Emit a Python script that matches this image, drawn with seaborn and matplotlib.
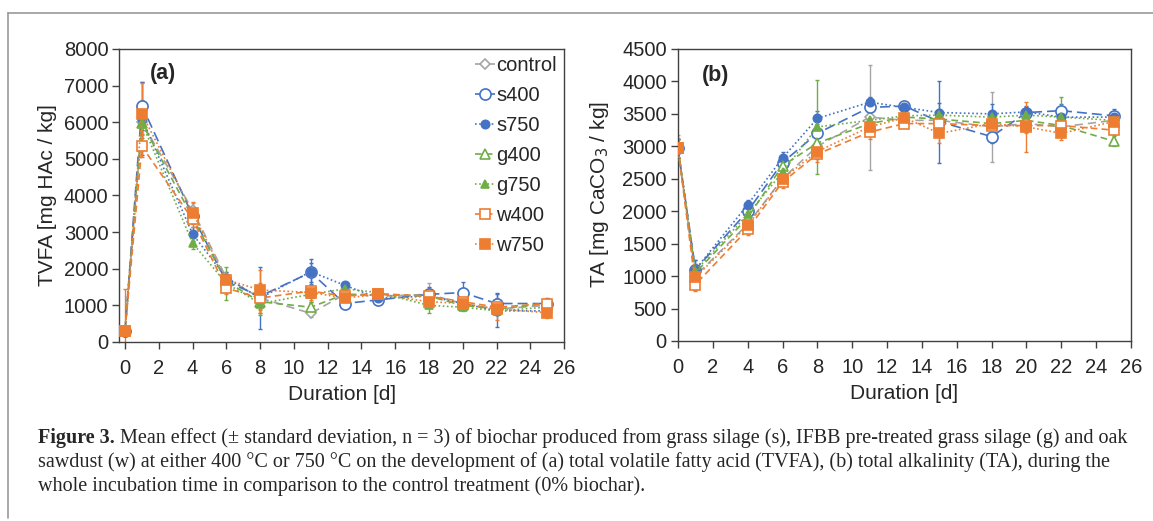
import matplotlib
matplotlib.use("Agg")
import matplotlib.pyplot as plt
from matplotlib.lines import Line2D
from matplotlib.text import Annotation
import seaborn as sns
import numpy as np

sns.set_style("ticks")
plt.rcParams['font.family'] = ['Liberation Sans', 'DejaVu Sans']

days = [0, 1, 4, 6, 8, 11, 13, 15, 18, 20, 22, 25]
series_names = ['control', 's400', 's750', 'g400', 'g750', 'w400', 'w750']

# (a) TVFA [mg HAc / kg]
tvfa_control = [300, 6000, 3600, 1750, 1200, 780, 1300, 1250, 1300, 1050, 900, 1000]
tvfa_s400 = [300, 6450, 3450, 1650, 1250, 1900, 1050, 1150, 1300, 1350, 1050, 1050]
tvfa_s750 = [300, 6100, 2950, 1750, 1200, 1920, 1550, 1200, 1250, 1050, 850, 850]
tvfa_g400 = [300, 5980, 3400, 1650, 1100, 950, 1300, 1300, 1250, 1000, 900, 1050]
tvfa_g750 = [300, 5980, 2700, 1600, 1050, 1300, 1450, 1350, 1000, 950, 850, 950]
tvfa_w400 = [300, 5340, 3350, 1470, 1200, 1390, 1250, 1320, 1250, 1100, 950, 1050]
tvfa_w750 = [300, 6230, 3530, 1700, 1420, 1350, 1200, 1300, 1100, 1050, 900, 800]

tvfa_sd_control = [100, 600, 200, 150, 300, 100, 100, 80, 300, 150, 150, 200]
tvfa_sd_s400 = [80, 650, 200, 150, 300, 250, 100, 80, 200, 300, 280, 100]
tvfa_sd_s750 = [100, 1000, 200, 150, 850, 350, 100, 80, 150, 150, 450, 100]
tvfa_sd_g400 = [80, 300, 150, 200, 300, 150, 100, 80, 150, 100, 100, 100]
tvfa_sd_g750 = [80, 400, 150, 450, 300, 200, 100, 100, 200, 100, 100, 100]
tvfa_sd_w400 = [80, 300, 200, 150, 400, 150, 100, 100, 150, 150, 150, 150]
tvfa_sd_w750 = [1150, 850, 300, 150, 550, 200, 150, 100, 150, 150, 300, 150]

# (b) TA [mg CaCO3 / kg]
ta_control = [2970, 1000, 1800, 2500, 3000, 3450, 3400, 3400, 3300, 3350, 3300, 3400]
ta_s400 = [2970, 1100, 2000, 2750, 3200, 3600, 3620, 3380, 3150, 3520, 3550, 3470]
ta_s750 = [2970, 1100, 2100, 2820, 3430, 3680, 3600, 3520, 3500, 3530, 3450, 3450]
ta_g400 = [2970, 1050, 1900, 2700, 3050, 3350, 3450, 3420, 3350, 3400, 3320, 3080]
ta_g750 = [2970, 1080, 1950, 2600, 3300, 3400, 3470, 3480, 3450, 3480, 3450, 3400]
ta_w400 = [2970, 870, 1720, 2450, 2880, 3220, 3350, 3350, 3320, 3320, 3320, 3250]
ta_w750 = [2970, 980, 1780, 2500, 2920, 3300, 3440, 3200, 3350, 3300, 3200, 3380]

ta_sd_control = [200, 150, 80, 100, 150, 810, 80, 100, 540, 150, 100, 100]
ta_sd_s400 = [150, 150, 100, 100, 150, 100, 50, 630, 100, 100, 100, 100]
ta_sd_s750 = [150, 150, 80, 100, 120, 80, 50, 150, 150, 80, 100, 80]
ta_sd_g400 = [150, 100, 80, 100, 120, 80, 50, 100, 100, 80, 100, 80]
ta_sd_g750 = [150, 100, 80, 100, 720, 80, 50, 100, 100, 80, 310, 80]
ta_sd_w400 = [150, 100, 80, 100, 120, 100, 50, 100, 100, 100, 100, 80]
ta_sd_w750 = [150, 200, 80, 100, 120, 100, 50, 150, 100, 380, 100, 80]

tvfa = [tvfa_control, tvfa_s400, tvfa_s750, tvfa_g400, tvfa_g750, tvfa_w400, tvfa_w750]
tvfa_sd = [tvfa_sd_control, tvfa_sd_s400, tvfa_sd_s750, tvfa_sd_g400, tvfa_sd_g750, tvfa_sd_w400, tvfa_sd_w750]
ta = [ta_control, ta_s400, ta_s750, ta_g400, ta_g750, ta_w400, ta_w750]
ta_sd = [ta_sd_control, ta_sd_s400, ta_sd_s750, ta_sd_g400, ta_sd_g750, ta_sd_w400, ta_sd_w750]

gray, blue, green, orange = '#A5A5A5', '#4472C4', '#70AD47', '#ED7D31'
styles = {
    'control': dict(color=gray, marker='D', ls=(0, (5, 3)), open=True, ms=5),
    's400': dict(color=blue, marker='o', ls=(0, (6, 3)), open=True, ms=8),
    's750': dict(color=blue, marker='o', ls=(0, (1, 1.5)), open=False, ms=6),
    'g400': dict(color=green, marker='^', ls=(0, (4, 2.5)), open=True, ms=7.5),
    'g750': dict(color=green, marker='^', ls=(0, (1, 1.5)), open=False, ms=5.5),
    'w400': dict(color=orange, marker='s', ls=(0, (4, 2.5)), open=True, ms=7.5),
    'w750': dict(color=orange, marker='s', ls=(0, (1, 1.5)), open=False, ms=6.5),
}

fig = plt.figure(figsize=(11.53, 5.21), dpi=100)
ax_a = fig.add_axes([0.1036, 0.3436, 0.3856, 0.5624])
ax_b = fig.add_axes([0.588, 0.3455, 0.3929, 0.5605])

def draw_panel(ax, data, sds):
    for name, vals, sd in zip(series_names, data, sds):
        st = styles[name]
        ax.errorbar(days, vals, yerr=sd, fmt='none', ecolor=st['color'],
                    elinewidth=1.0, capsize=1.5, capthick=1.0, zorder=2)
        sns.lineplot(x=days, y=vals, ax=ax, color=st['color'], marker=st['marker'],
                     linestyle=st['ls'], linewidth=1.2, markersize=st['ms'],
                     markerfacecolor='white' if st['open'] else st['color'],
                     markeredgecolor=st['color'], markeredgewidth=1.2,
                     errorbar=None, label=name, legend=False, zorder=3)
    ax.set_xlim(0, 26)
    ax.set_xticks(range(0, 27, 2))
    ax.tick_params(direction='out', length=5, width=1, labelsize=14.5, color='#404040', pad=3)
    ax.tick_params(axis='x', pad=7)
    for sp in ax.spines.values():
        sp.set_color('#404040')
        sp.set_linewidth(1.0)
    ax.set_xlabel('Duration [d]', fontsize=15, labelpad=5)

draw_panel(ax_a, tvfa, tvfa_sd)
ax_a.set_xlim(-0.33, 26)
ax_a.set_ylim(0, 8000)
ax_a.set_yticks(range(0, 8001, 1000))
ax_a.set_ylabel('TVFA [mg HAc / kg]', fontsize=15)
ax_a.yaxis.set_label_coords(-0.14, 0.5)
ax_a.text(0.069, 0.918, '(a)', transform=ax_a.transAxes, fontsize=15.5,
          fontweight='bold', va='center', ha='left')
ax_a.legend(loc='upper right', bbox_to_anchor=(1.0, 1.0), frameon=False, fontsize=14.5,
            handlelength=1.0, handletextpad=0.05, labelspacing=0.55, borderpad=0.25,
            borderaxespad=0.1)

draw_panel(ax_b, ta, ta_sd)
ax_b.set_ylim(0, 4500)
ax_b.set_yticks(range(0, 4501, 500))
ax_b.set_ylabel('TA [mg CaCO$_3$ / kg]', fontsize=15)
ax_b.yaxis.set_label_coords(-0.148, 0.5)
ax_b.text(0.053, 0.91, '(b)', transform=ax_b.transAxes, fontsize=15.5,
          fontweight='bold', va='center', ha='left')

# page frame lines
fig.add_artist(Line2D([8 / 1153, 1.0], [1 - 13 / 521, 1 - 13 / 521], color='#999999', lw=1.2))
fig.add_artist(Line2D([8 / 1153, 8 / 1153], [1 - 13 / 521, 1 - 518 / 521], color='#999999', lw=1.2))

# caption
cap_font = ['Liberation Serif', 'DejaVu Serif']
cap_size = 14.5
line1_rest = ('Mean effect (\u00b1 standard deviation, n = 3) of biochar produced from grass silage (s), '
              'IFBB pre-treated grass silage (g) and oak')
line2 = ('sawdust (w) at either 400 \u00b0C or 750 \u00b0C on the development of (a) total volatile fatty acid '
         '(TVFA), (b) total alkalinity (TA), during the')
line3 = 'whole incubation time in comparison to the control treatment (0% biochar).'
t1 = fig.text(38 / 1153, 1 - 443 / 521, 'Figure 3.', family=cap_font, fontsize=cap_size,
              fontweight='bold', va='baseline')
fig.add_artist(Annotation(' ' + line1_rest, xy=(1, 0), xycoords=t1,
                          va='bottom', family=cap_font, fontsize=cap_size))
fig.text(38 / 1153, 1 - 467 / 521, line2, family=cap_font, fontsize=cap_size, va='baseline')
fig.text(38 / 1153, 1 - 491 / 521, line3, family=cap_font, fontsize=cap_size, va='baseline')

fig.savefig('out.png', dpi=100)
